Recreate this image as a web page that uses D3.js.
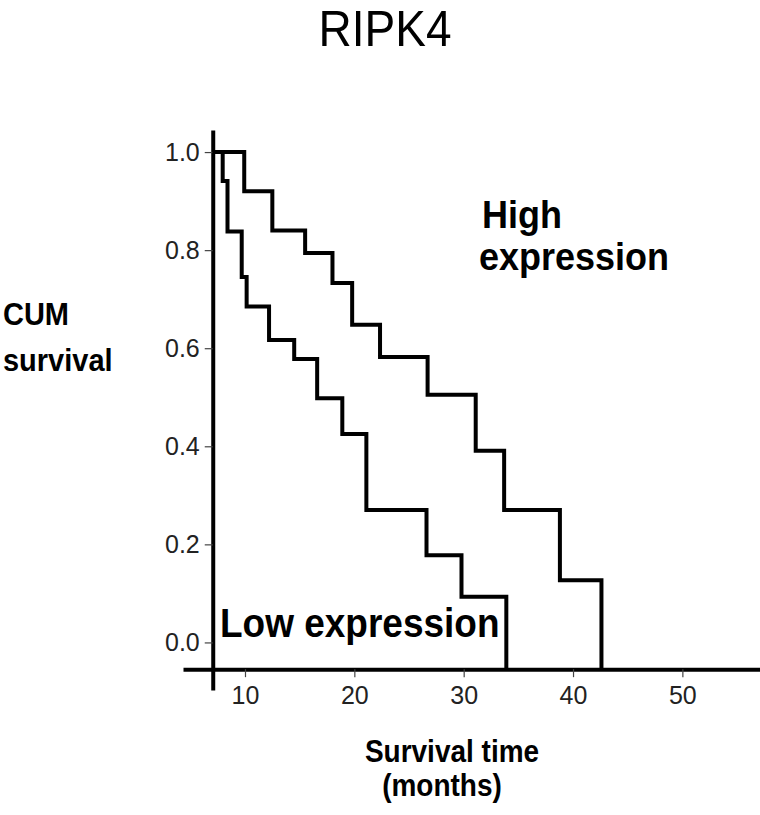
<!DOCTYPE html>
<html>
<head>
<meta charset="utf-8">
<script src="https://cdn.jsdelivr.net/npm/d3@7"></script>
<style>
  html, body { margin: 0; padding: 0; background: #fff; }
  svg { display: block; }
</style>
</head>
<body>
<svg id="chart" width="760" height="815"></svg>
<script>
// ---- Data ----
const title = "RIPK4";
const highTimes    = [7.05, 9.93, 12.5, 15.5, 18.0, 19.8, 22.35, 26.7, 31.1, 33.7, 38.8, 42.6];
const highSurvival = [1.0, 0.92, 0.84, 0.794, 0.733, 0.648, 0.582, 0.505, 0.391, 0.27, 0.127, 0.0];
const lowTimes     = [7.05, 7.96, 8.4, 9.7, 10.15, 12.2, 14.5, 16.6, 18.9, 21.1, 26.6, 29.8, 33.9];
const lowSurvival  = [1.0, 0.941, 0.838, 0.745, 0.685, 0.617, 0.578, 0.498, 0.425, 0.27, 0.178, 0.093, 0.0];
const xTicks = [10, 20, 30, 40, 50];
const yTicks = [0.0, 0.2, 0.4, 0.6, 0.8, 1.0];
const xDomain = [4.33, 57.1];
const yDomain = [-0.097, 1.045];
const xAxisAt = -0.0545;  // survival value where the x axis line sits
const yAxisAt = 7.05;     // time value where the y axis line sits

const svg = d3.select("#chart");
const x = d3.scaleLinear().domain(xDomain).range([183, 760]);
const y = d3.scaleLinear().domain(yDomain).range([690, 130]);

const FONT = "'Liberation Sans', Arial, Helvetica, sans-serif";
const VSTRETCH = 1.1;

function label(txt, xx, yy, size, anchor, weight) {
  svg.append("text")
    .attr("transform", `translate(${xx},${yy}) scale(1,${VSTRETCH})`)
    .attr("text-anchor", anchor || "start")
    .attr("font-family", FONT)
    .attr("font-weight", weight || "bold")
    .attr("font-size", size)
    .attr("fill", "#000")
    .text(txt);
}

// Title
label(title, 385, 46, 46, "middle", "normal");

// X axis
const xAxis = d3.axisBottom(x).tickValues(xTicks).tickFormat(d3.format("d"))
  .tickSizeInner(8).tickSizeOuter(0).tickPadding(9);
const gx = svg.append("g")
  .attr("transform", `translate(0,${y(xAxisAt)})`)
  .call(xAxis);
gx.select(".domain").attr("stroke", "#000").attr("stroke-width", 4);
gx.selectAll(".tick line").attr("stroke", "#444").attr("stroke-width", 1.2);
gx.selectAll(".tick text")
  .attr("font-family", FONT).attr("font-size", 25).attr("fill", "#222");

// Y axis
const yAxis = d3.axisLeft(y).tickValues(yTicks).tickFormat(d3.format(".1f"))
  .tickSizeInner(8).tickSizeOuter(0).tickPadding(5);
const gy = svg.append("g")
  .attr("transform", `translate(${x(yAxisAt)},0)`)
  .call(yAxis);
gy.select(".domain").attr("stroke", "#000").attr("stroke-width", 4);
gy.selectAll(".tick line").attr("stroke", "#444").attr("stroke-width", 1.2);
gy.selectAll(".tick text")
  .attr("font-family", FONT).attr("font-size", 25).attr("fill", "#222");

// Kaplan-Meier step curves
const line = d3.line()
  .x(d => x(d[0]))
  .y(d => y(d[1]))
  .curve(d3.curveStepAfter);

function curvePoints(times, surv) {
  return times.map((t, i) => [t, surv[i] === 0 ? xAxisAt : surv[i]]);
}

[[highTimes, highSurvival], [lowTimes, lowSurvival]].forEach(([t, s]) => {
  svg.append("path")
    .datum(curvePoints(t, s))
    .attr("d", line)
    .attr("fill", "none")
    .attr("stroke", "#000")
    .attr("stroke-width", 4)
    .attr("stroke-linejoin", "miter");
});

// Annotations
label("High", 482, 228, 36);
label("expression", 479, 270, 36);
label("Low expression", 220, 637, 37);

// Axis titles
label("CUM", 3, 325, 29);
label("survival", 3, 371, 29);
label("Survival time", 452, 762, 28, "middle");
label("(months)", 442, 796, 28, "middle");
</script>
</body>
</html>
